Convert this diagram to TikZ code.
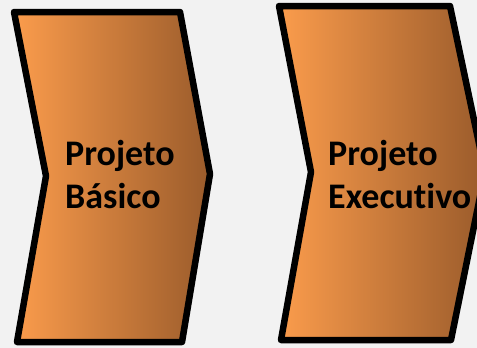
\documentclass[tikz,border=0pt]{standalone}
\usepackage{fontspec}
\setmainfont[Ligatures=NoCommon]{Carlito}
\definecolor{bg}{HTML}{F2F2F2}
\definecolor{orL}{HTML}{FB9C4C}
\definecolor{orR}{HTML}{9A5B2B}
\tikzset{
  chev/.style={draw=black, line width=6.5pt, line join=round, left color=orL, right color=orR},
  lbl/.style={anchor=base west, inner sep=0pt, font=\fontsize{36}{43}\selectfont\bfseries, text=black}
}
\begin{document}
\begin{tikzpicture}[x=1pt,y=-1pt]
\fill[bg] (0,0) rectangle (477,348);
\useasboundingbox (0,0) rectangle (477,348);
\begin{scope}
\clip (0,0) rectangle (477,348);
\path[chev] (14,12) -- (180,12) -- (210,174) -- (182,342) -- (17,342) -- (46,176) -- cycle;
\path[chev] (279,6) -- (450,6) -- (485,172) -- (451,340) -- (281,340) -- (311,172) -- cycle;
\end{scope}
\node[lbl] (b1) at (65,165) {Projeto};
\node[lbl] (b2) at (65,208) {Básico};
\node[lbl] (e1) at (328,165) {Projeto};
\node[lbl] (e2) at (328,208) {Executivo};
\end{tikzpicture}
\end{document}
